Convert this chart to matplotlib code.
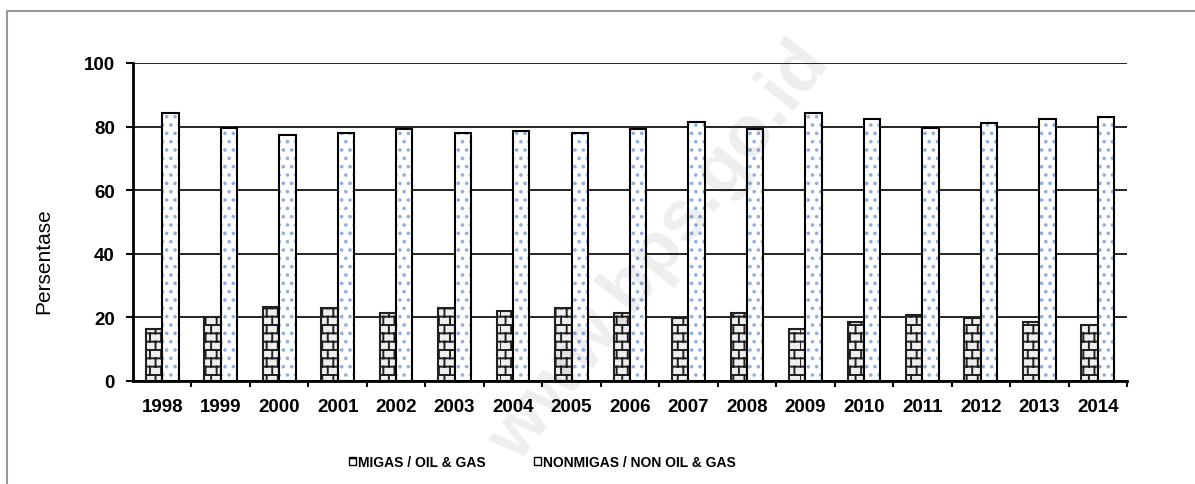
import warnings
import matplotlib
matplotlib.use("Agg")
import matplotlib.pyplot as plt
import matplotlib.hatch as mhatch
from matplotlib.path import Path
from matplotlib.patches import Patch, Rectangle
import numpy as np

warnings.filterwarnings('ignore', message='.*hatch must consist.*')

years = ['1998', '1999', '2000', '2001', '2002', '2003', '2004', '2005', '2006',
         '2007', '2008', '2009', '2010', '2011', '2012', '2013', '2014']
migas = [16.5, 20.1, 23.3, 22.8, 21.3, 22.8, 22.0, 22.8, 21.3,
         19.7, 21.3, 16.5, 18.4, 20.8, 19.7, 18.4, 17.6]
nonmigas = [84.3, 79.7, 77.3, 78.0, 79.1, 77.9, 78.6, 78.0, 79.2,
            81.3, 79.2, 84.3, 82.4, 79.7, 81.1, 82.4, 82.9]
labels = ['MIGAS / OIL & GAS', 'NONMIGAS / NON OIL & GAS']


class BrickHatch(mhatch.HatchPatternBase):
    # staggered brick pattern, used with hatch='b'
    def __init__(self, hatch, density):
        self.rows = hatch.count('b') * 12
        self.cols = 9
        self.num_vertices = self.rows * (self.cols + 1) * 2

    def set_vertices_and_codes(self, vertices, codes):
        h = 1.0 / self.rows
        segs = []
        for r in range(self.rows):
            y = r * h
            segs.append(((0.0, y), (1.0, y)))
            off = 0.5 / self.cols if r % 2 else 0.0
            for c in range(self.cols):
                xx = c / self.cols + off
                segs.append(((xx, y), (xx, y + h)))
        pts = np.array(segs).reshape(-1, 2)
        vertices[:] = pts
        codes[0::2] = Path.MOVETO
        codes[1::2] = Path.LINETO


mhatch._hatch_types.append(BrickHatch)

plt.rcParams['font.family'] = ['Liberation Sans', 'DejaVu Sans']
plt.rcParams['hatch.linewidth'] = 1.4

fig = plt.figure(figsize=(11.95, 4.85), dpi=100)
ax = fig.add_axes([133 / 1195, 1 - 382 / 485, (1127 - 133) / 1195, (382 - 64) / 485])

x = np.arange(len(years))
w = 0.28

ax.bar(x - w / 2, migas, w, color='#eeeeee', edgecolor='#202020', hatch='b', linewidth=1.5, zorder=3)
# nonmigas: light blue dots, then black outline on top
ax.bar(x + w / 2, nonmigas, w, color='white', edgecolor='#8fb0e0', hatch='..', linewidth=0, zorder=3)
ax.bar(x + w / 2, nonmigas, w, fill=False, edgecolor='black', linewidth=1.5, zorder=4)

ax.set_ylim(0, 100)
ax.set_xlim(-0.5, len(years) - 0.5)
ax.set_yticks([0, 20, 40, 60, 80, 100])
ax.yaxis.grid(True, color='black', linewidth=1.2, zorder=1)
ax.set_axisbelow(True)

ax.set_xticks(x)
ax.set_xticklabels(years, fontsize=13.5, fontweight='bold')
ax.set_xticks(np.arange(len(years)) + 0.5, minor=True)
ax.tick_params(axis='x', which='major', length=0, pad=12)
ax.tick_params(axis='x', which='minor', length=4, width=1.5, direction='out')
ax.tick_params(axis='y', length=5, width=1.5, pad=8, labelsize=13.5)
for t in ax.get_yticklabels():
    t.set_fontweight('bold')

ax.spines['top'].set_visible(False)
ax.spines['right'].set_visible(False)
ax.spines['left'].set_linewidth(2)
ax.spines['bottom'].set_linewidth(2)
ax.spines['bottom'].set_zorder(5)

ax.set_ylabel('Persentase', fontsize=15)
ax.yaxis.set_label_coords(-0.0805, 0.38)

handles = [Patch(facecolor='white', edgecolor='black', hatch='+', linewidth=1),
           Patch(facecolor='white', edgecolor='black', linewidth=1)]
fig.legend(handles, labels, ncol=2, loc='center', bbox_to_anchor=(0.454, 1 - 463 / 485),
           frameon=False, handlelength=0.5, handleheight=0.5, handletextpad=0.15,
           columnspacing=3.5, prop={'size': 10, 'weight': 'bold'})

# outer frame of the original chart
fig.patches.append(Rectangle((7 / 1195, -0.2), 1.2, 1 - 12 / 485 + 0.2, transform=fig.transFigure,
                             fill=False, edgecolor='#9a9a9a', linewidth=1.5))

# watermark
fig.text(0.552, 0.48, 'www.bps.go.id', rotation=52, fontsize=52, fontweight='bold',
         color='black', alpha=0.07, ha='center', va='center', zorder=10)

fig.savefig('out.png', dpi=100, facecolor='white')
